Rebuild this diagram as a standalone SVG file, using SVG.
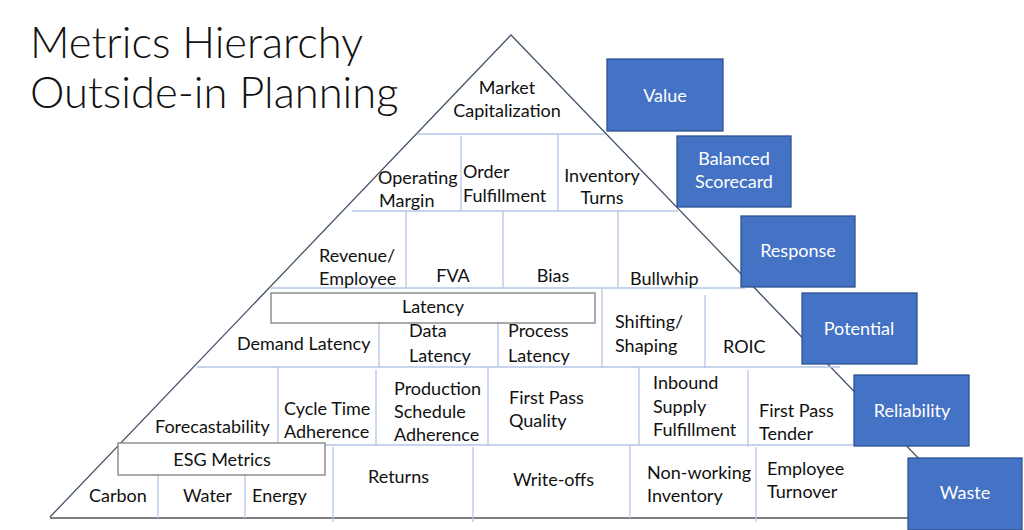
<svg xmlns="http://www.w3.org/2000/svg" width="1024" height="530" viewBox="0 0 1024 530">
<style>
text{font-family:Lato,"Open Sans","Liberation Sans",sans-serif;font-size:18px;fill:#111}
.t{font-size:43.5px;font-weight:300}
.m{text-anchor:middle}
.w{fill:#fff;text-anchor:middle}
.g{stroke:#b4c7e7;stroke-width:1.3;fill:none}
.side{stroke:#44546a;stroke-width:1.3;fill:none}
.base{stroke:#7f7f7f;stroke-width:2;fill:none}
.hdr{fill:#fff;stroke:#7f7f7f;stroke-width:1.3}
.blue{fill:#4472c4;stroke:#2f528f;stroke-width:1.3}
</style>
<rect width="1024" height="530" fill="#fff"/>
<g id="title">
<text class="t" x="30" y="58">Metrics Hierarchy</text>
<text class="t" x="30" y="108">Outside-in Planning</text>
</g>
<g id="connectors">
<path class="side" d="M50 517 L511 35 L976 518"/>
<path class="base" d="M50 518 H976"/>
<path class="g" d="M417 134 H605 M352 211 H678 M270 288 H745 M197 367 H840 M119 445 H853"/>
<path class="g" d="M461 136 V211 M558 134 V211 M406 211 V288 M503 211 V288 M618 211 V287 M379 323 V367 M498 323 V367 M602 289 V368 M705 295 V368 M278 367 V445 M376 370 V445 M488 367 V445 M639 367 V445 M748 370 V447 M158 475 V518 M245 475 V518 M333 447 V522 M473 447 V522 M630 445 V518 M756 447 V522"/>
</g>
<g id="market-cap"><text class="m" x="507" y="94">Market</text><text class="m" x="507" y="117">Capitalization</text></g>
<g id="operating-margin"><text x="378" y="184">Operating</text><text x="379" y="207">Margin</text></g>
<g id="order-fulfillment"><text x="463" y="178">Order</text><text x="463" y="202">Fulfillment</text></g>
<g id="inventory-turns"><text class="m" x="602" y="182">Inventory</text><text class="m" x="602" y="204">Turns</text></g>
<g id="revenue-employee"><text x="319" y="262">Revenue/</text><text x="319" y="285">Employee</text></g>
<g id="fva"><text class="m" x="453" y="282">FVA</text></g>
<g id="bias"><text class="m" x="553" y="282">Bias</text></g>
<g id="bullwhip"><text x="630" y="285">Bullwhip</text></g>
<g id="latency"><rect class="hdr" x="271" y="293" width="324" height="30"/><text class="m" x="433" y="313">Latency</text></g>
<g id="demand-latency"><text x="237" y="350">Demand Latency</text></g>
<g id="data-latency"><text x="409" y="337">Data</text><text x="409" y="362">Latency</text></g>
<g id="process-latency"><text x="508" y="337">Process</text><text x="508" y="362">Latency</text></g>
<g id="shifting-shaping"><text x="615" y="328">Shifting/</text><text x="615" y="352">Shaping</text></g>
<g id="roic"><text x="723" y="353">ROIC</text></g>
<g id="forecastability"><text x="155" y="433">Forecastability</text></g>
<g id="cycle-time"><text x="284" y="415">Cycle Time</text><text x="284" y="438">Adherence</text></g>
<g id="production-schedule"><text x="394" y="395">Production</text><text x="394" y="418">Schedule</text><text x="394" y="441">Adherence</text></g>
<g id="first-pass-quality"><text x="509" y="404">First Pass</text><text x="509" y="427">Quality</text></g>
<g id="inbound-supply"><text x="653" y="389">Inbound</text><text x="653" y="413">Supply</text><text x="653" y="436">Fulfillment</text></g>
<g id="first-pass-tender"><text x="759" y="417">First Pass</text><text x="759" y="440">Tender</text></g>
<g id="esg-metrics"><rect class="hdr" x="118" y="443" width="207" height="32"/><text class="m" x="222" y="466">ESG Metrics</text></g>
<g id="carbon"><text x="89" y="502">Carbon</text></g>
<g id="water"><text x="183" y="502">Water</text></g>
<g id="energy"><text x="252" y="502">Energy</text></g>
<g id="returns"><text x="368" y="483">Returns</text></g>
<g id="write-offs"><text x="513" y="486">Write-offs</text></g>
<g id="non-working"><text x="647" y="479">Non-working</text><text x="647" y="502">Inventory</text></g>
<g id="employee-turnover"><text x="767" y="475">Employee</text><text x="767" y="498">Turnover</text></g>
<g id="value"><rect class="blue" x="607" y="59" width="116" height="72"/><text class="w" x="665" y="102">Value</text></g>
<g id="balanced-scorecard"><rect class="blue" x="677" y="136" width="114" height="71"/><text class="w" x="734" y="165">Balanced</text><text class="w" x="734" y="188">Scorecard</text></g>
<g id="response"><rect class="blue" x="741" y="216" width="114" height="71"/><text class="w" x="798" y="257">Response</text></g>
<g id="potential"><rect class="blue" x="802" y="293" width="115" height="71"/><text class="w" x="859" y="335">Potential</text></g>
<g id="reliability"><rect class="blue" x="854" y="375" width="115" height="71"/><text class="w" x="912" y="417">Reliability</text></g>
<g id="waste"><rect class="blue" x="908" y="458" width="114" height="72"/><text class="w" x="965" y="499">Waste</text></g>
</svg>
